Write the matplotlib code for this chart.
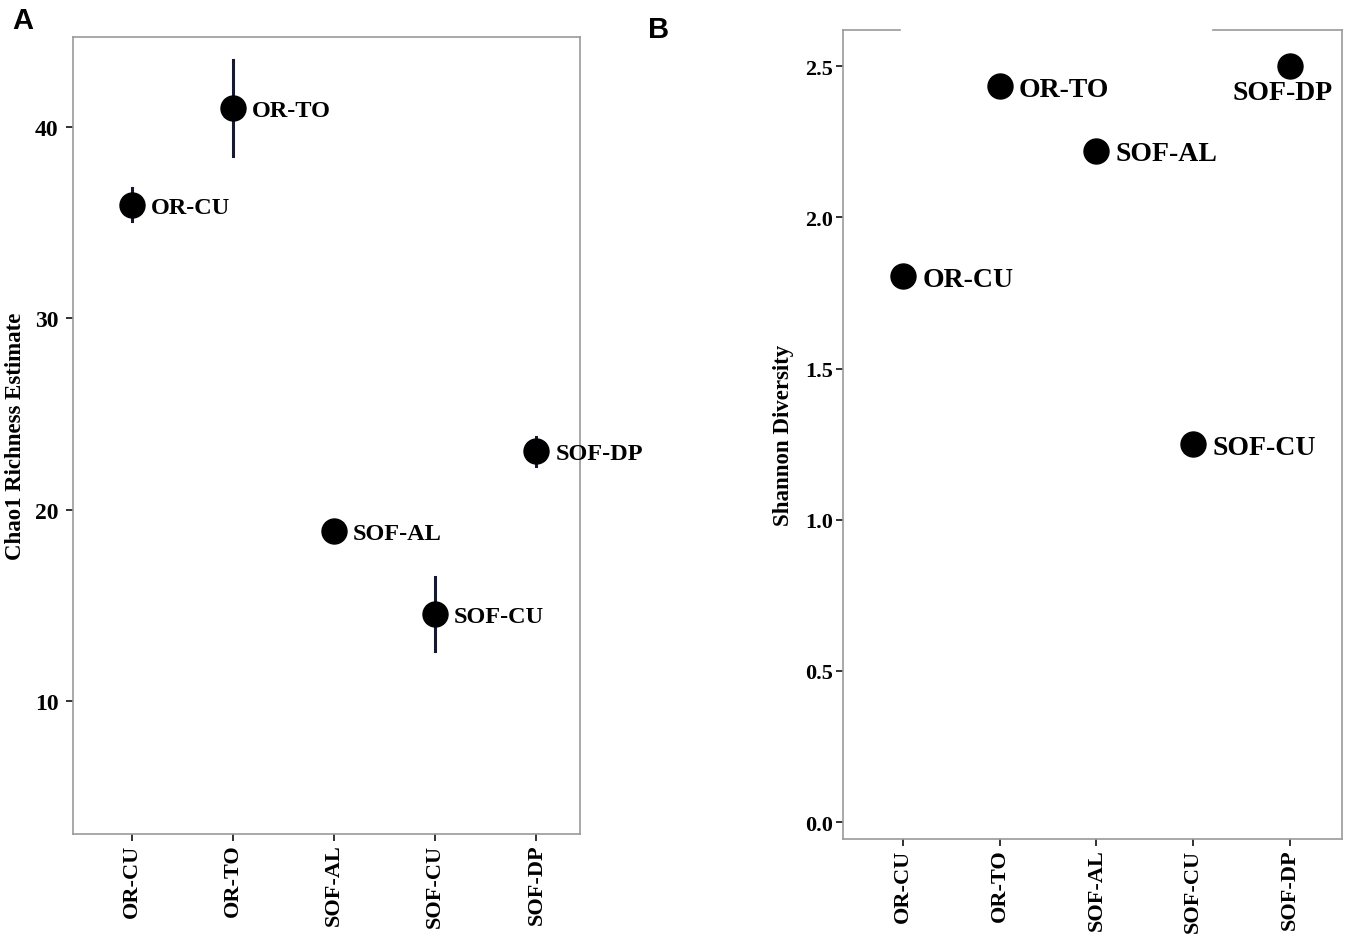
import matplotlib
matplotlib.use("Agg")
import matplotlib.pyplot as plt
from matplotlib.lines import Line2D

sites = ["OR-CU", "OR-TO", "SOF-AL", "SOF-CU", "SOF-DP"]
chao1 = [35.9, 41.0, 18.9, 14.55, 23.05]
chao1_lo = [35.1, 38.5, 18.9, 12.6, 22.3]
chao1_hi = [36.8, 43.5, 18.9, 16.5, 23.8]
shannon = [1.805, 2.434, 2.22, 1.25, 2.50]
chao_ticks = [10, 20, 30, 40]
shannon_ticks = [0.0, 0.5, 1.0, 1.5, 2.0, 2.5]

W, H = 1350, 937
fig = plt.figure(figsize=(W / 100, H / 100), dpi=100)

serif = ["Liberation Serif", "DejaVu Serif"]
spine_col = "#9a9a9a"
err_col = "#141a33"

def px_axes(l, t, r, b):
    return fig.add_axes([l / W, 1 - b / H, (r - l) / W, (b - t) / H])

def style(ax, ysize, ypad):
    for s in ax.spines.values():
        s.set_color(spine_col)
        s.set_linewidth(1.2)
    ax.tick_params(axis="both", direction="out", length=5, width=1.3, color="#222222")
    ax.tick_params(axis="y", pad=ypad)
    ax.tick_params(axis="x", pad=2)
    for lab in ax.get_yticklabels():
        lab.set_fontfamily(serif); lab.set_fontweight("bold"); lab.set_fontsize(ysize)
    for lab in ax.get_xticklabels():
        lab.set_fontfamily(serif); lab.set_fontweight("bold"); lab.set_fontsize(16)
        lab.set_rotation(90)

# Panel A
axA = px_axes(73, 38, 580, 835)
xs = list(range(len(sites)))
for i in xs:
    axA.plot([i, i], [chao1_lo[i], chao1_hi[i]], color=err_col, lw=2.2, zorder=2)
axA.plot(xs, chao1, "o", color="black", ms=18, zorder=3, ls="none")
axA.set_xlim(-0.58, 4.43)
axA.set_ylim(3.05, 44.7)
axA.set_xticks(xs)
axA.set_xticklabels(sites)
axA.set_yticks(chao_ticks)
axA.set_yticklabels([str(t) for t in chao_ticks])
style(axA, 17, 5.5)
for i in xs:
    axA.annotate(sites[i], (i, chao1[i]), xytext=(13.5, 0), textcoords="offset points",
                 ha="left", va="center_baseline", fontsize=17.5, fontweight="bold",
                 family=serif)
axA.set_ylabel("Chao1 Richness Estimate", fontsize=16.5, fontweight="bold", family=serif,
               va="center")
axA.yaxis.set_label_coords((15 - 73) / 507, 0.5)

# Panel B
axB = px_axes(843, 31, 1342, 840)
axB.plot(xs, shannon, "o", color="black", ms=18, zorder=3, ls="none")
axB.set_xlim(-0.62, 4.54)
axB.set_ylim(-0.056, 2.62)
axB.set_xticks(xs)
axB.set_xticklabels(sites)
axB.set_yticks(shannon_ticks)
axB.set_yticklabels([f"{t:.1f}" for t in shannon_ticks])
style(axB, 16, 2)
axB.spines["top"].set_visible(False)
gx0 = (900 - 843) / (1342 - 843)
gx1 = (1213 - 843) / (1342 - 843)
for a, b in [(0, gx0), (gx1, 1)]:
    axB.add_line(Line2D([a, b], [1, 1], transform=axB.transAxes, color=spine_col,
                        lw=1.2, clip_on=False))
for i in xs:
    if sites[i] == "SOF-DP":
        axB.annotate(sites[i], (i, shannon[i]), xytext=(-5, -17), textcoords="offset points",
                     ha="center", va="center_baseline", fontsize=20, fontweight="bold",
                     family=serif)
    else:
        axB.annotate(sites[i], (i, shannon[i]), xytext=(14, 0), textcoords="offset points",
                     ha="left", va="center_baseline", fontsize=20, fontweight="bold",
                     family=serif)
axB.set_ylabel("Shannon Diversity", fontsize=16.5, fontweight="bold", family=serif,
               va="center")
axB.yaxis.set_label_coords((783 - 843) / 499, 0.5)

fig.text(12 / W, 1 - 21 / H, "A", fontsize=21, fontweight="bold", family="Liberation Sans",
         va="center", ha="left")
fig.text(648 / W, 1 - 30 / H, "B", fontsize=21, fontweight="bold", family="Liberation Sans",
         va="center", ha="left")

fig.savefig("out.png", dpi=100)
